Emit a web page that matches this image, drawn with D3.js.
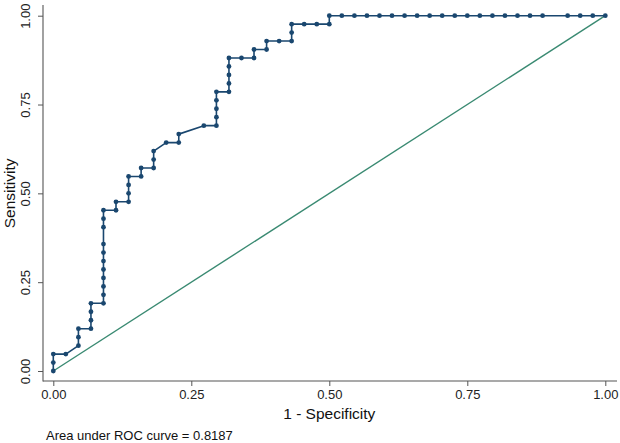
<!DOCTYPE html>
<html>
<head>
<meta charset="utf-8">
<script src="https://cdn.jsdelivr.net/npm/d3@7"></script>
<style>
  html, body { margin: 0; padding: 0; background: #fff; }
  svg { display: block; font-family: "Liberation Sans", Arial, sans-serif; }
</style>
</head>
<body>
<svg id="chart" width="620" height="443"></svg>
<script>
// ROC curve points (1 - specificity, sensitivity)
const fpr = [0,0,0,0.0227,0.0455,0.0455,0.0455,0.0682,0.0682,0.0682,0.0682,
  0.0909,0.0909,0.0909,0.0909,0.0909,0.0909,0.0909,0.0909,0.0909,0.0909,0.0909,
  0.1136,0.1136,0.1364,0.1364,0.1364,0.1364,0.1591,0.1591,0.1818,0.1818,0.1818,
  0.2045,0.2273,0.2273,0.2727,0.2955,0.2955,0.2955,0.2955,0.2955,
  0.3182,0.3182,0.3182,0.3182,0.3182,0.3409,0.3636,0.3636,0.3864,0.3864,0.4091,
  0.4318,0.4318,0.4318,0.4545,0.4773,0.5,0.5,
  0.5227,0.5455,0.5682,0.5909,0.6136,0.6364,0.6591,0.6818,0.7045,0.7273,0.75,
  0.7727,0.7955,0.8182,0.8409,0.8636,0.8864,0.9318,0.9545,0.9773,1];
const tpr = [0,0.0238,0.0476,0.0476,0.0714,0.0952,0.1190,0.1190,0.1429,0.1667,0.1905,
  0.1905,0.2143,0.2381,0.2619,0.2857,0.3095,0.3333,0.3571,0.4048,0.4286,0.4524,
  0.4524,0.4762,0.4762,0.5,0.5238,0.5476,0.5476,0.5714,0.5714,0.5952,0.6190,
  0.6429,0.6429,0.6667,0.6905,0.6905,0.7143,0.7381,0.7619,0.7857,
  0.7857,0.8095,0.8333,0.8571,0.8810,0.8810,0.8810,0.9048,0.9048,0.9286,
  0.9286,0.9286,0.9524,0.9762,0.9762,0.9762,0.9762,1,
  1,1,1,1,1,1,1,1,1,1,1,1,1,1,1,1,1,1,1,1,1];
const refX = [0, 1];
const refY = [0, 1];
const xTicks = [0, 0.25, 0.5, 0.75, 1];
const yTicks = [0, 0.25, 0.5, 0.75, 1];
const xTitle = "1 - Specificity";
const yTitle = "Sensitivity";
const note = "Area under ROC curve = 0.8187";

const svg = d3.select("#chart");
const x = d3.scaleLinear().domain([0, 1]).range([53.3, 605.3]);
const y = d3.scaleLinear().domain([0, 1]).range([371, 15.7]);

const region = { left: 43, right: 617, top: 5, bottom: 381 };
const axisColor = "#555";
const fmt = d3.format(".2f");

// axes
const gx = svg.append("g").attr("transform", `translate(0,${region.bottom})`)
  .call(d3.axisBottom(x).tickValues(xTicks).tickFormat(fmt).tickSize(5).tickSizeOuter(0).tickPadding(4));
gx.select(".domain").remove();
gx.selectAll(".tick line").attr("stroke", axisColor);
gx.selectAll(".tick text").attr("font-size", 13).attr("fill", "#222")
  .attr("font-family", "Liberation Sans, Arial, sans-serif");

const gy = svg.append("g").attr("transform", `translate(${region.left},0)`)
  .call(d3.axisLeft(y).tickValues(yTicks).tickFormat(fmt).tickSize(5).tickSizeOuter(0));
gy.select(".domain").remove();
gy.selectAll(".tick line").attr("stroke", axisColor);
gy.selectAll(".tick text")
  .attr("font-size", 13).attr("fill", "#222")
  .attr("font-family", "Liberation Sans, Arial, sans-serif")
  .attr("text-anchor", "middle")
  .attr("transform", "rotate(-90)")
  .attr("x", 0).attr("y", -18).attr("dy", "0.35em");

svg.append("line").attr("x1", region.left).attr("x2", region.left)
  .attr("y1", region.top).attr("y2", region.bottom + 0.5)
  .attr("stroke", axisColor).attr("stroke-width", 1.1);
svg.append("line").attr("x1", region.left).attr("x2", region.right)
  .attr("y1", region.bottom).attr("y2", region.bottom)
  .attr("stroke", axisColor).attr("stroke-width", 1.1);

// titles
svg.append("text").attr("x", (x(0) + x(1)) / 2).attr("y", 414).attr("dy", "0.35em")
  .attr("text-anchor", "middle").attr("font-size", 15.5).attr("fill", "#111").text(xTitle);
svg.append("text").attr("transform", `translate(10,${(y(0) + y(1)) / 2}) rotate(-90)`)
  .attr("dy", "0.35em").attr("text-anchor", "middle").attr("font-size", 15.5)
  .attr("fill", "#111").text(yTitle);
svg.append("text").attr("x", 46).attr("y", 435).attr("dy", "0.35em")
  .attr("font-size", 13).attr("fill", "#111").text(note);

// reference line
svg.append("path")
  .datum(refX.map((d, i) => [d, refY[i]]))
  .attr("d", d3.line().x(d => x(d[0])).y(d => y(d[1])))
  .attr("fill", "none").attr("stroke", "#3a8a72").attr("stroke-width", 1.4);

// ROC curve
const pts = fpr.map((d, i) => [d, tpr[i]]);
const navy = "#1a476f";
svg.append("path").datum(pts)
  .attr("d", d3.line().x(d => x(d[0])).y(d => y(d[1])))
  .attr("fill", "none").attr("stroke", navy).attr("stroke-width", 1.6)
  .attr("stroke-linejoin", "round");
svg.append("g").selectAll("circle").data(pts).join("circle")
  .attr("cx", d => x(d[0])).attr("cy", d => y(d[1])).attr("r", 2.4)
  .attr("fill", navy);
</script>
</body>
</html>
